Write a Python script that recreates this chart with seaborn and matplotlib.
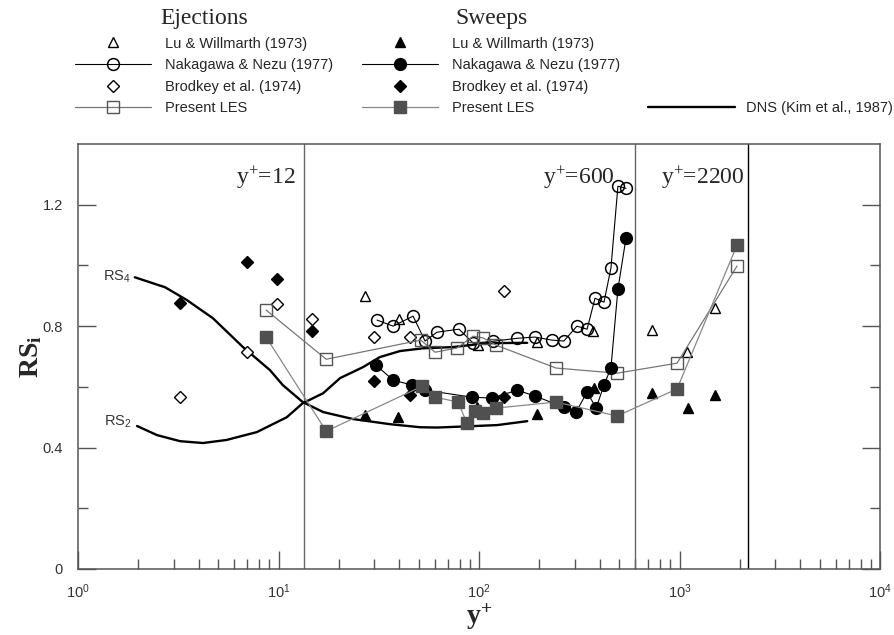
import math
import matplotlib
matplotlib.use("Agg")
import matplotlib.pyplot as plt
from matplotlib.ticker import FixedLocator, FuncFormatter, LogLocator, NullFormatter
import seaborn as sns

# ---------------- data ----------------
# DNS (Kim et al., 1987)
dns_rs4_x = [1.92, 2.72, 3.49, 4.71, 6.65, 9.07, 10.5, 13.2, 16.7, 23.5, 36, 50.8, 61.7, 74, 123, 174]
dns_rs4_y = [0.961, 0.928, 0.886, 0.826, 0.731, 0.655, 0.606, 0.55, 0.517, 0.494, 0.477, 0.467, 0.466, 0.468, 0.474, 0.487]
dns_rs2_x = [1.97, 2.48, 3.23, 4.2, 5.5, 7.8, 11, 13.2, 16.7, 20.3, 26.4, 32, 40.4, 52.6, 74, 110, 174]
dns_rs2_y = [0.471, 0.441, 0.421, 0.415, 0.425, 0.451, 0.5, 0.546, 0.579, 0.629, 0.665, 0.698, 0.718, 0.727, 0.731, 0.744, 0.745]

# Ejections
lu_ej_x = [27, 40, 99, 195, 372, 730, 1090, 1500]
lu_ej_y = [0.90, 0.823, 0.737, 0.748, 0.785, 0.787, 0.714, 0.859]
nn_ej_x = [31, 37.3, 46.9, 53.8, 61.7, 79.5, 93.5, 117, 155, 190, 231, 265, 308, 346, 379, 420, 455, 493, 541]
nn_ej_y = [0.82, 0.80, 0.833, 0.751, 0.78, 0.79, 0.744, 0.75, 0.76, 0.764, 0.754, 0.751, 0.80, 0.79, 0.892, 0.879, 0.991, 1.261, 1.254]
br_ej_x = [3.23, 6.96, 9.84, 14.7, 29.9, 45.3, 133]
br_ej_y = [0.566, 0.714, 0.872, 0.823, 0.764, 0.764, 0.915]
les_ej_x = [8.67, 17.3, 51.2, 60.4, 77.6, 93.5, 105, 122, 242, 488, 972, 1936]
les_ej_y = [0.853, 0.691, 0.754, 0.714, 0.728, 0.767, 0.761, 0.737, 0.662, 0.645, 0.678, 0.998]

# Sweeps
lu_sw_x = [27, 39.5, 98, 195, 375, 730, 1100, 1503]
lu_sw_y = [0.507, 0.50, 0.533, 0.51, 0.596, 0.579, 0.53, 0.573]
nn_sw_x = [30.6, 37.3, 46.4, 53.8, 92.3, 116, 155, 190, 265, 305, 346, 384, 420, 455, 493, 541]
nn_sw_y = [0.672, 0.622, 0.606, 0.589, 0.566, 0.563, 0.589, 0.57, 0.533, 0.517, 0.583, 0.53, 0.606, 0.662, 0.922, 1.09]
br_sw_x = [3.23, 6.96, 9.84, 14.7, 29.9, 45.3, 133]
br_sw_y = [0.876, 1.011, 0.955, 0.784, 0.62, 0.573, 0.566]
les_sw_x = [8.67, 17.3, 52, 60.4, 78.6, 87, 95.5, 105, 122, 242, 488, 972, 1936]
les_sw_y = [0.764, 0.454, 0.602, 0.566, 0.55, 0.481, 0.52, 0.513, 0.53, 0.55, 0.504, 0.593, 1.067]

# reference lines and labels
ref_yplus = [13.4, 600, 2200]
ref_labels = ["12", "600", "2200"]
ref_label_x = [12.1, 477, 2099]
y_ticks = [0, 0.4, 0.8, 1.2]

# ---------------- style ----------------
sns.set_style("white")
plt.rcParams["font.family"] = ["Liberation Sans", "DejaVu Sans"]
plt.rcParams["mathtext.fontset"] = "custom"
plt.rcParams["mathtext.rm"] = "Liberation Serif"
plt.rcParams["mathtext.it"] = "Liberation Serif:italic"
plt.rcParams["mathtext.bf"] = "Liberation Serif:bold"
plt.rcParams["mathtext.sf"] = "Liberation Sans"

fig = plt.figure(figsize=(8.95, 6.35), dpi=100)
ax = fig.add_axes([78 / 895, 1 - 569 / 635, (880 - 78) / 895, (569 - 144) / 635])


def draw(x, y, **kw):
    sns.lineplot(x=x, y=y, ax=ax, estimator=None, sort=False, legend=False, **kw)
    return ax.lines[-1]


GRAY = "#555555"

# DNS
h_dns = draw(dns_rs4_x, dns_rs4_y, color="black", lw=1.7, label="DNS (Kim et al., 1987)")
draw(dns_rs2_x, dns_rs2_y, color="black", lw=1.7)

# Ejections (open)
h_lu_ej = draw(lu_ej_x, lu_ej_y, ls="none", marker="^", ms=7.5, mfc="white", mec="black", mew=1.0,
               label="Lu & Willmarth (1973)")
h_nn_ej = draw(nn_ej_x, nn_ej_y, color="black", lw=0.8, marker="o", ms=8.5, mfc="none", mec="black", mew=1.1,
               label="Nakagawa & Nezu (1977)")
h_br_ej = draw(br_ej_x, br_ej_y, ls="none", marker="D", ms=6.3, mfc="white", mec="black", mew=1.0,
               label="Brodkey et al. (1974)")
h_les_ej = draw(les_ej_x, les_ej_y, color="#777777", lw=0.9, marker="s", ms=8.5, mfc="none", mec=GRAY, mew=1.0,
                label="Present LES")

# Sweeps (filled)
h_lu_sw = draw(lu_sw_x, lu_sw_y, ls="none", marker="^", ms=7.5, mfc="black", mec="black", mew=1.0,
               label="Lu & Willmarth (1973)")
h_nn_sw = draw(nn_sw_x, nn_sw_y, color="black", lw=0.8, marker="o", ms=8.5, mfc="black", mec="black", mew=1.0,
               label="Nakagawa & Nezu (1977)")
h_br_sw = draw(br_sw_x, br_sw_y, ls="none", marker="D", ms=6.3, mfc="black", mec="black", mew=1.0,
               label="Brodkey et al. (1974)")
h_les_sw = draw(les_sw_x, les_sw_y, color="#888888", lw=0.9, marker="s", ms=8.5, mfc="#505050", mec="#505050",
                mew=1.0, label="Present LES")

# vertical reference lines
for xv, c in zip(ref_yplus, ["#666666", "#666666", "black"]):
    ax.axvline(xv, color=c, lw=1.0, zorder=1)
for xl, lab in zip(ref_label_x, ref_labels):
    ax.text(xl, 1.29, r"y$^{+}$=" + lab, ha="right", va="center", fontsize=17,
            family=["Liberation Serif"])

# RS labels
ax.text(1.84, 0.962, r"RS$_{\mathsf{4}}$", ha="right", va="center", fontsize=10.5, color="#333333")
ax.text(1.86, 0.484, r"RS$_{\mathsf{2}}$", ha="right", va="center", fontsize=10.5, color="#333333")

# axes
ax.set_xscale("log")
ax.set_xlim(1, 1e4)
ax.set_ylim(0, 1.4)
ax.xaxis.set_major_locator(LogLocator(base=10, numticks=10))
ax.xaxis.set_minor_locator(LogLocator(base=10, subs=range(2, 10), numticks=20))
ax.xaxis.set_minor_formatter(NullFormatter())
ax.xaxis.set_major_formatter(FuncFormatter(lambda v, p: r"$\mathsf{10^{%d}}$" % round(math.log10(v))))
ax.yaxis.set_major_locator(FixedLocator(y_ticks))
ax.yaxis.set_minor_locator(FixedLocator([0.2, 0.6, 1.0]))
ax.yaxis.set_major_formatter(FuncFormatter(lambda v, p: "0" if v == 0 else "%.1f" % v))

ax.tick_params(which="both", direction="in", left=True, bottom=True, right=True, top=False,
               color=GRAY, labelcolor="#333333", labelsize=10.5)
ax.tick_params(which="major", length=13, width=1.0)
ax.tick_params(which="minor", length=7, width=1.0)
ax.tick_params(axis="y", pad=11)
ax.tick_params(axis="x", pad=10)
for s in ax.spines.values():
    s.set_color(GRAY)
    s.set_linewidth(1.1)

ax.set_xlabel(r"$\mathbf{y^{+}}$", fontsize=20, labelpad=0)
ax.set_ylabel(r"$\mathbf{RS_{i}}$", fontsize=20, labelpad=-1)

# legends
leg_kw = dict(frameon=False, fontsize=10.5, handlelength=5.2, handletextpad=1.0, labelspacing=0.52,
              borderpad=0, borderaxespad=0, loc="upper left",
              title_fontproperties={"family": "Liberation Serif", "size": 17})
leg1 = fig.legend([h_lu_ej, h_nn_ej, h_br_ej, h_les_ej],
                  [h.get_label() for h in [h_lu_ej, h_nn_ej, h_br_ej, h_les_ej]],
                  title="Ejections", bbox_to_anchor=(75 / 895, 1 - 8 / 635), **leg_kw)
leg2 = fig.legend([h_lu_sw, h_nn_sw, h_br_sw, h_les_sw],
                  [h.get_label() for h in [h_lu_sw, h_nn_sw, h_br_sw, h_les_sw]],
                  title="Sweeps", bbox_to_anchor=(362 / 895, 1 - 8 / 635), **leg_kw)
leg3 = fig.legend([h_dns], [h_dns.get_label()], frameon=False, fontsize=10.5, handlelength=6.0,
                  handletextpad=0.7, borderpad=0, borderaxespad=0, loc="center left",
                  bbox_to_anchor=(648 / 895, 1 - 108 / 635))

fig.savefig("out.png", dpi=100)
